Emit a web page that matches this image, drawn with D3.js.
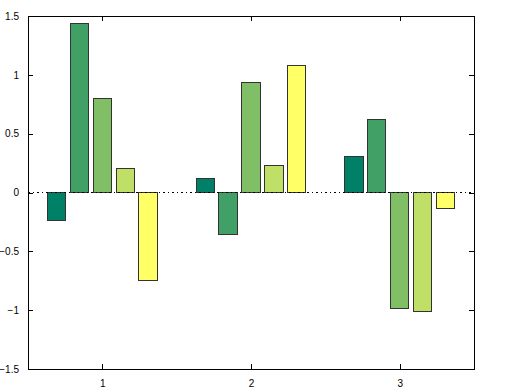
<!DOCTYPE html>
<html><head><meta charset="utf-8">
<script src="https://cdn.jsdelivr.net/npm/d3@7"></script>
<style>body{margin:0;background:#fff}svg{display:block}text{font-family:"Liberation Sans",Arial,sans-serif;font-size:10px}</style>
</head><body>
<script>
const categories = [1, 2, 3];
const series1 = [-0.24, 0.115, 0.31];
const series2 = [1.44, -0.355, 0.62];
const series3 = [0.795, 0.935, -0.99];
const series4 = [0.205, 0.23, -1.01];
const series5 = [-0.745, 1.08, -0.135];
const colors = ["#008066", "#40a066", "#80bf66", "#bfdf66", "#ffff66"];
const yTicks = [-1.5, -1, -0.5, 0, 0.5, 1, 1.5];
const xTicks = [1, 2, 3];

const W = 516, H = 390;
const L = 28, R = 474, T = 16, B = 369;
const svg = d3.select("body").append("svg").attr("width", W).attr("height", H);
const x = d3.scaleLinear().domain([0.5, 3.5]).range([L, R]);
const y = d3.scaleLinear().domain([-1.5, 1.5]).range([B, T]);

const allSeries = [series1, series2, series3, series4, series5];
const n = allSeries.length;
const groupW = Math.min(0.8, n / (n + 1.5));
const step = groupW / n;
const barW = step * 0.8;

allSeries.forEach((s, i) => {
  svg.append("g").selectAll("rect").data(s).join("rect")
    .attr("x", (d, j) => x(categories[j] + (i - (n - 1) / 2) * step - barW / 2))
    .attr("width", (d, j) => x(barW) - x(0))
    .attr("y", d => y(Math.max(0, d)))
    .attr("height", d => Math.abs(y(d) - y(0)))
    .attr("fill", colors[i])
    .attr("stroke", "#333")
    .attr("stroke-width", 1)
    .attr("shape-rendering", "crispEdges");
});

// dotted baseline
svg.append("line").attr("x1", L).attr("x2", R).attr("y1", y(0)).attr("y2", y(0))
  .attr("stroke", "#000").attr("stroke-width", 1).attr("stroke-dasharray", "1.5,3")
  .attr("shape-rendering", "crispEdges");

// axes
const fmt = d => d < 0 ? "\u2212" + Math.abs(d) : String(d);
const yl = d3.axisLeft(y).tickValues(yTicks).tickSize(-5).tickPadding(9).tickFormat(fmt);
const yr = d3.axisRight(y).tickValues(yTicks).tickSize(-5).tickFormat("");
const xb = d3.axisBottom(x).tickValues(xTicks).tickSize(-5).tickPadding(11).tickFormat(d3.format("d"));
const xt = d3.axisTop(x).tickValues(xTicks).tickSize(-5).tickFormat("");
function style(g) { g.select(".domain").remove(); g.selectAll("line").attr("stroke", "#000").attr("shape-rendering", "crispEdges"); g.selectAll("text").attr("fill", "#000").style("font-size", "10px"); }
svg.append("g").attr("transform", `translate(${L},0)`).call(yl).call(style);
svg.append("g").attr("transform", `translate(${R},0)`).call(yr).call(style);
svg.append("g").attr("transform", `translate(0,${B})`).call(xb).call(style);
svg.append("g").attr("transform", `translate(0,${T})`).call(xt).call(style);
svg.append("rect").attr("x", L).attr("y", T).attr("width", R - L).attr("height", B - T)
  .attr("fill", "none").attr("stroke", "#000").attr("stroke-width", 1).attr("shape-rendering", "crispEdges");
</script>
</body></html>
